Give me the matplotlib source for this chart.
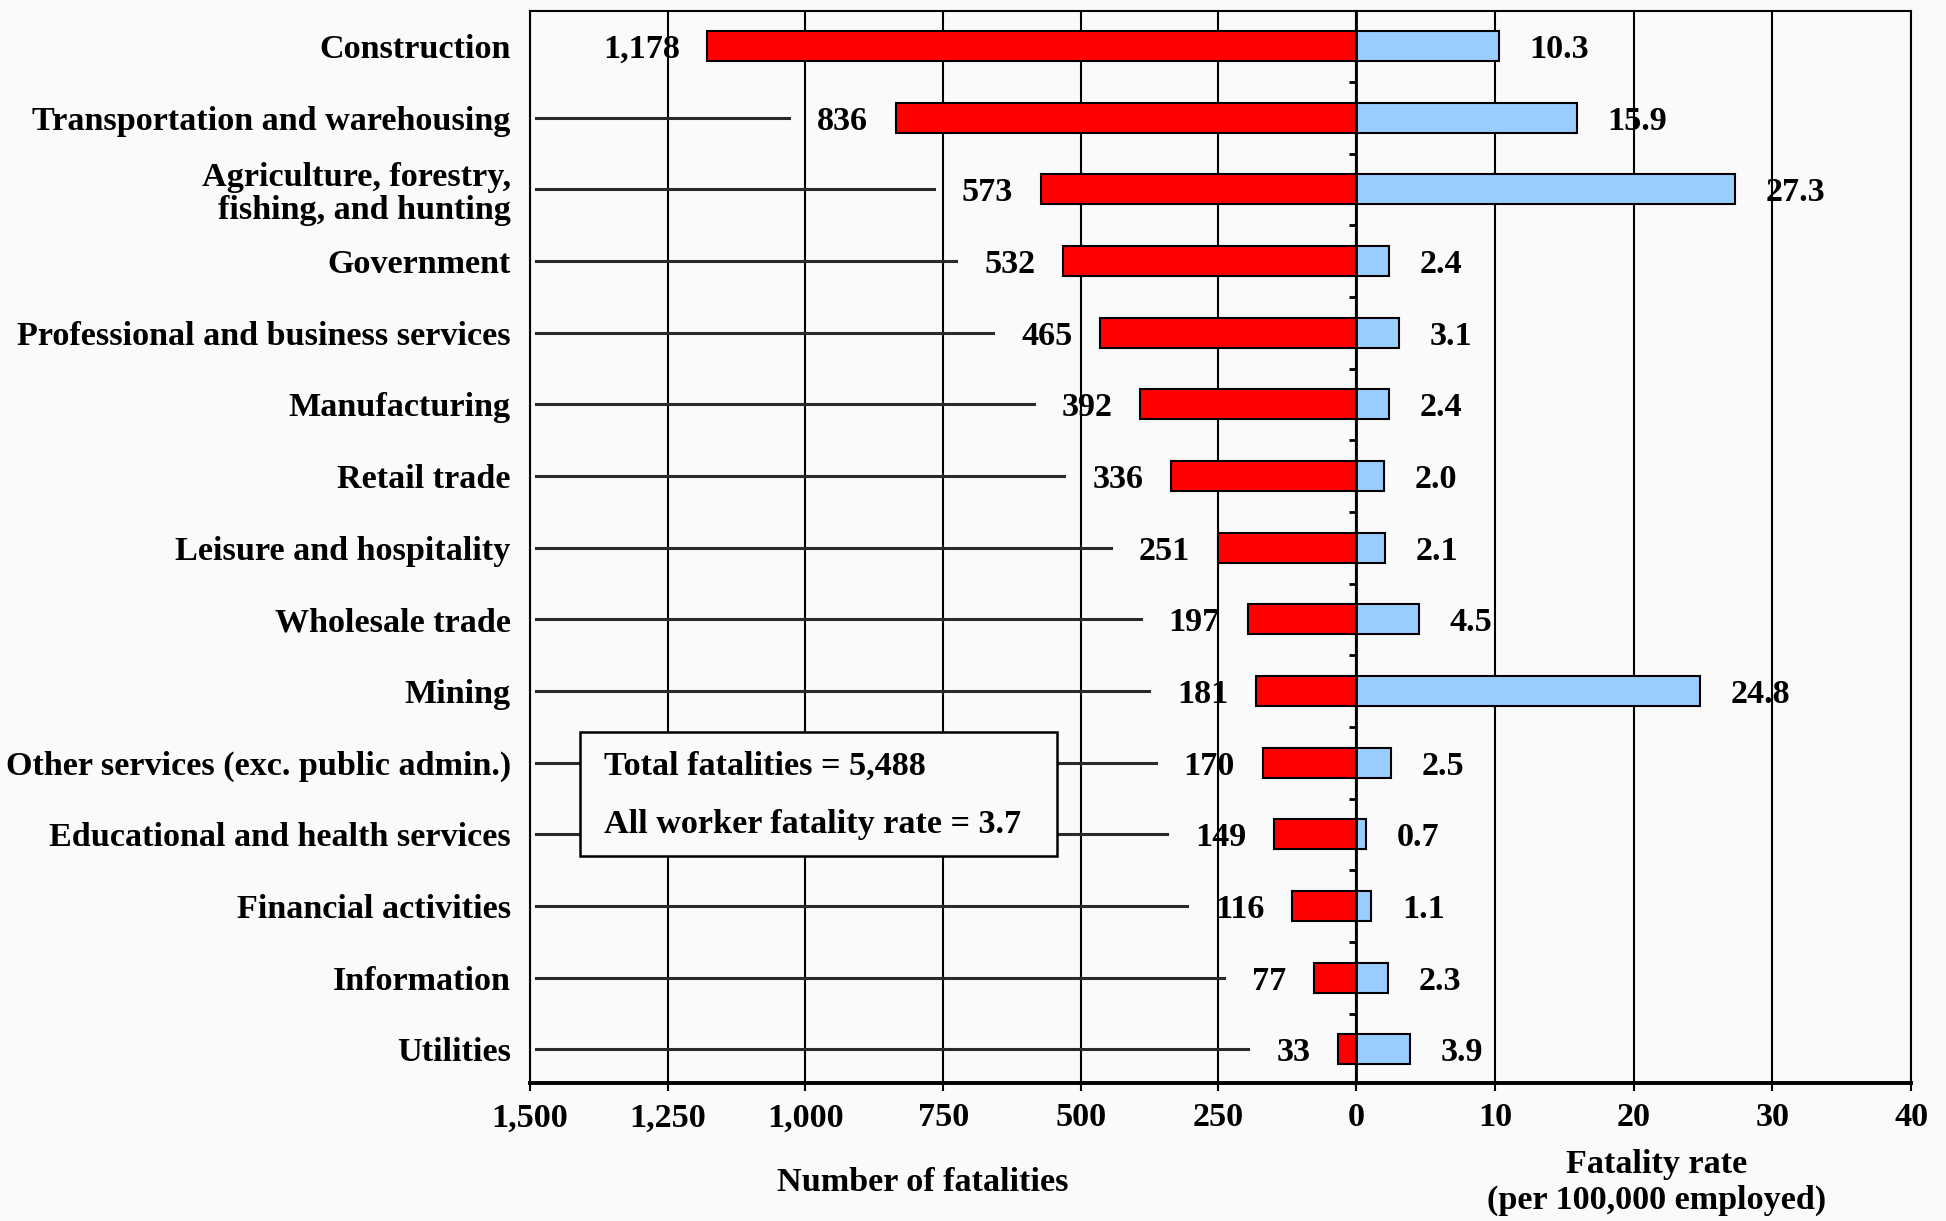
import numpy as np
import matplotlib
matplotlib.use("Agg")
import matplotlib.pyplot as plt
from matplotlib.patches import Rectangle

# === Data ===
industries = [
    "Construction",
    "Transportation and warehousing",
    "Agriculture, forestry,\nfishing, and hunting",
    "Government",
    "Professional and business services",
    "Manufacturing",
    "Retail trade",
    "Leisure and hospitality",
    "Wholesale trade",
    "Mining",
    "Other services (exc. public admin.)",
    "Educational and health services",
    "Financial activities",
    "Information",
    "Utilities",
]
fatalities = [1178, 836, 573, 532, 465, 392, 336, 251, 197, 181, 170, 149, 116, 77, 33]
rates = [10.3, 15.9, 27.3, 2.4, 3.1, 2.4, 2.0, 2.1, 4.5, 24.8, 2.5, 0.7, 1.1, 2.3, 3.9]

left_ticks = [1500, 1250, 1000, 750, 500, 250, 0]
right_ticks = [0, 10, 20, 30, 40]
box_lines = ["Total fatalities = 5,488", "All worker fatality rate = 3.7"]

# === Style ===
BG = "#fafafa"
RED = "#ff0000"
BLUE = "#99ccff"
FS = 24.6
plt.rcParams["font.family"] = ["Liberation Serif", "DejaVu Serif"]
plt.rcParams["font.weight"] = "bold"
plt.rcParams["axes.labelweight"] = "bold"

fig = plt.figure(figsize=(19.46, 12.21), dpi=100, facecolor=BG)
ax1 = fig.add_axes([0.2724, 0.113, 0.4245, 0.878], facecolor=BG)
ax2 = fig.add_axes([0.6969, 0.113, 0.2852, 0.878], facecolor=BG)

y = np.arange(len(industries))
bar_h = 0.42
ylim = (14.47, -0.49)

# === Left panel : number of fatalities ===
ax1.barh(y, fatalities, height=bar_h, color=RED, edgecolor="black", linewidth=1.5, zorder=2)
ax1.set_xlim(1500, 0)
ax1.set_ylim(*ylim)
ax1.set_xticks(left_ticks)
ax1.set_xticklabels([f"{t:,}" if t else "" for t in left_ticks], fontsize=FS)
ax1.set_yticks(y)
ax1.set_yticklabels(industries, fontsize=FS)
for lab in ax1.get_yticklabels():
    lab.set_linespacing(1.1)
ax1.tick_params(axis="y", length=0, pad=14)
ax1.tick_params(axis="x", direction="out", length=6, width=1.5, pad=8)
ax1.grid(axis="x", color="black", linewidth=1.5, zorder=0)
ax1.set_axisbelow(True)
for s in ax1.spines.values():
    s.set_linewidth(1.5)
ax1.spines["bottom"].set_linewidth(2.8)

val_texts = []
for i, v in enumerate(fatalities):
    t = ax1.annotate(f"{v:,}", xy=(v, i), xytext=(-20, 0), textcoords="offset points",
                     ha="right", va="center_baseline", fontsize=FS, zorder=4)
    val_texts.append(t)

# === Right panel : fatality rate ===
ax2.barh(y, rates, height=bar_h, color=BLUE, edgecolor="black", linewidth=1.5, zorder=2)
ax2.set_xlim(0, 40)
ax2.set_ylim(*ylim)
ax2.set_xticks(right_ticks)
ax2.set_xticklabels([str(t) for t in right_ticks], fontsize=FS)
ax2.tick_params(axis="x", direction="out", length=6, width=1.5, pad=8)
ax2.set_yticks(np.arange(0.5, len(industries) - 1, 1))
ax2.tick_params(axis="y", direction="out", length=5, width=2, labelleft=False)
ax2.grid(axis="x", color="black", linewidth=1.5, zorder=0)
ax2.set_axisbelow(True)
for s in ax2.spines.values():
    s.set_linewidth(1.5)
ax2.spines["bottom"].set_linewidth(2.8)
ax2.spines["left"].set_linewidth(2)

for i, r in enumerate(rates):
    ax2.annotate(f"{r:.1f}", xy=(r, i), xytext=(22, 0), textcoords="offset points",
                 ha="left", va="center_baseline", fontsize=FS, zorder=4)

# === Axis titles ===
ax1.set_xlabel("Number of fatalities", fontsize=FS)
ax1.xaxis.set_label_coords(0.475, -0.093)
ax1.xaxis.label.set_va("center")
ax2.set_xlabel("Fatality rate\n(per 100,000 employed)", fontsize=FS)
ax2.xaxis.set_label_coords(0.542, -0.093)
ax2.xaxis.label.set_va("center")

# === Leader lines from the left spine to each value label ===
fig.canvas.draw()
inv = ax1.transData.inverted()
x_start_px = ax1.transData.transform((1490, 0))[0]
for i, t in enumerate(val_texts):
    bb = t.get_window_extent()
    x_end_px = bb.x0 - 28
    if x_end_px - x_start_px < 90:
        continue
    x_end = inv.transform((x_end_px, 0))[0]
    ax1.plot([1490, x_end], [i, i], color="#2a2a2a", linewidth=2.2, zorder=1)

# === Summary box ===
ax1.add_patch(Rectangle((0.0605, 0.2118), 0.5775, 0.1156, transform=ax1.transAxes,
                        facecolor=BG, edgecolor="black", linewidth=1.8, zorder=5))
ax1.text(0.0896, 0.2957, box_lines[0], transform=ax1.transAxes, ha="left", va="center",
         fontsize=FS, zorder=6)
ax1.text(0.0896, 0.2407, box_lines[1], transform=ax1.transAxes, ha="left", va="center",
         fontsize=FS, zorder=6)

fig.savefig("out.png", dpi=100, facecolor=BG)
